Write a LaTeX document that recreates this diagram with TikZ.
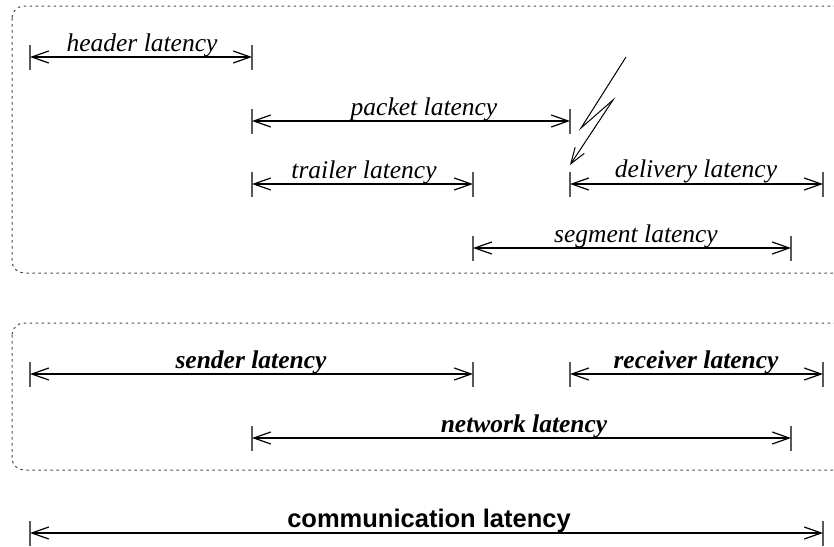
\documentclass[tikz,border=0pt]{standalone}
\usepackage{fontspec}
\setmainfont{Liberation Serif}
\newfontfamily\hvfont{Liberation Sans}
\usetikzlibrary{arrows.meta}
\begin{document}
\begin{tikzpicture}[x=1pt,y=-1pt,
 barb/.tip={Straight Barb[length=17pt,width=12pt]},
 dimline/.style={line width=1.2pt, barb-barb},
 tickmark/.style={line width=1.4pt, black!65},
 lab/.style={font=\fontsize{25.5}{30}\selectfont\itshape, anchor=base, inner sep=0pt},
 blab/.style={font=\fontsize{25.5}{30}\selectfont\bfseries\itshape, anchor=base, inner sep=0pt},
 slab/.style={font=\hvfont\fontsize{25.5}{30}\selectfont\bfseries, anchor=base, inner sep=0pt},
 frame/.style={draw=black!70, line width=1pt, dash pattern=on 2.5pt off 3.5pt, rounded corners=12pt},
 bolt/.style={line width=1pt, -{Straight Barb[length=16pt,width=11pt]}}]
\useasboundingbox (0,0) rectangle (834,546);
\clip (0,0) rectangle (834,546);
% frames
\draw[frame] (12,6) rectangle (846,273);
\draw[frame] (12,323) rectangle (846,470);
% end points
\coordinate (h1) at (30,57);  \coordinate (h2) at (252,57);
\coordinate (p1) at (252,121); \coordinate (p2) at (570,121);
\coordinate (t1) at (252,184); \coordinate (t2) at (473,184);
\coordinate (d1) at (570,184); \coordinate (d2) at (823,184);
\coordinate (g1) at (473,248); \coordinate (g2) at (791,248);
\coordinate (s1) at (30,374);  \coordinate (s2) at (473,374);
\coordinate (r1) at (570,374); \coordinate (r2) at (823,374);
\coordinate (n1) at (252,438); \coordinate (n2) at (791,438);
\coordinate (c1) at (30,533);  \coordinate (c2) at (823,533);
% ticks
\foreach \c in {h1,h2,p1,p2,t1,t2,d1,d2,g1,g2,s1,s2,r1,r2,n1,n2,c1,c2}
  \draw[tickmark] ([yshift=12pt]\c) -- ([yshift=-13pt]\c);
% dimension lines
\draw[dimline] (h1) -- (h2);
\draw[dimline] (p1) -- (p2);
\draw[dimline] (t1) -- (t2);
\draw[dimline] (d1) -- (d2);
\draw[dimline] (g1) -- (g2);
\draw[dimline] (s1) -- (s2);
\draw[dimline] (r1) -- (r2);
\draw[dimline] (n1) -- (n2);
\draw[dimline] (c1) -- (c2);
% labels
\node[lab] (lh) at (142,51) {header latency};
\node[lab] (lp) at (424,115) {packet latency};
\node[lab] (lt) at (364,178) {trailer latency};
\node[lab] (ld) at (696,177) {delivery latency};
\node[lab] (lg) at (636,242) {segment latency};
\node[blab] (ls) at (251,368) {sender latency};
\node[blab] (lr) at (696,368) {receiver latency};
\node[blab] (ln) at (524,432) {network latency};
\node[slab] (lc) at (429,527) {communication latency};
% lightning bolt
\coordinate (b0) at (626,57);
\coordinate (b1) at (581,128);
\coordinate (b2) at (613,100);
\coordinate (b3) at (570,165);
\draw[bolt] (b0) -- (b1) -- (b2) -- (b3);
\end{tikzpicture}
\end{document}
